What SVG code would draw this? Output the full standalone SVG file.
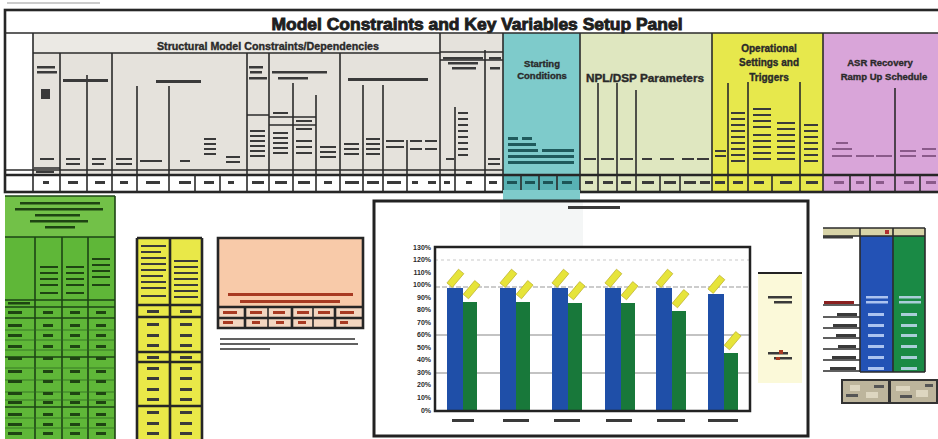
<svg xmlns="http://www.w3.org/2000/svg" width="938" height="439" viewBox="0 0 938 439">
<style>
.ln{stroke:#2b2b2b;stroke-width:1.6;fill:none}
.thk{stroke:#262626;stroke-width:2.6;fill:none}
.b{fill:#3a3a3a}
.bw{fill:#cfe0ff;opacity:.8}
.bg{fill:#1e4412}
.br{fill:#a83a22}
.gl{stroke:#1d4414;stroke-width:1.6;fill:none}
.gt{stroke:#2f6a22;stroke-width:.8;fill:none}
.hd{font-family:"Liberation Sans",Arial,sans-serif;font-weight:bold;fill:#2a2a2a;text-anchor:middle;stroke:#2a2a2a;stroke-width:.35}
.tt{stroke-width:.9;fill:#1e1e1e;stroke:#1e1e1e}
.ax{font-family:"Liberation Sans",Arial,sans-serif;font-weight:bold;font-size:7px;fill:#2a2a2a;text-anchor:end}
.lab{fill:#e6e43a;stroke:#b5a81e;stroke-width:.6}
</style>
<rect width="938" height="439" fill="#fff"/>
<line x1="7" y1="3" x2="100" y2="3" stroke="#999" stroke-width="1"/>

<g id="top-panel">
  <rect x="5" y="10" width="933" height="182" fill="#fff"/>
  <rect x="33" y="33" width="470" height="142" fill="#e5e2dc"/>
  <rect x="33" y="33" width="407" height="20" fill="#ebe9e4"/>
  <rect x="503" y="33" width="77" height="167" fill="#7ecbcb"/>
  <rect x="503" y="175" width="77" height="17" fill="#58b2b4"/>
  <rect x="580" y="33" width="132" height="159" fill="#dfe7c0"/>
  <rect x="712" y="33" width="111" height="159" fill="#e7e84c"/>
  <rect x="823" y="33" width="115" height="159" fill="#d9a5d9"/>
  <text class="hd tt" x="477" y="30" font-size="17" textLength="411" lengthAdjust="spacingAndGlyphs">Model Constraints and Key Variables Setup Panel</text>
  <text class="hd" x="268" y="50" font-size="10" textLength="222" lengthAdjust="spacingAndGlyphs">Structural Model Constraints/Dependencies</text>
  <text class="hd" x="542" y="67" font-size="9.5">Starting</text>
  <text class="hd" x="542" y="79" font-size="9.5">Conditions</text>
  <text class="hd" x="645" y="82" font-size="10" textLength="118" lengthAdjust="spacingAndGlyphs">NPL/DSP Parameters</text>
  <text class="hd" x="769" y="52" font-size="10">Operational</text>
  <text class="hd" x="769" y="66" font-size="10">Settings and</text>
  <text class="hd" x="769" y="81" font-size="10">Triggers</text>
  <text class="hd" x="880" y="66" font-size="9.5">ASR Recovery</text>
  <text class="hd" x="884" y="80" font-size="9.5">Ramp Up Schedule</text>

  <rect x="5" y="10" width="935" height="182" class="thk"/>
  <line x1="5" y1="33" x2="938" y2="33" class="ln"/>
  <line x1="33" y1="53" x2="440" y2="53" class="ln"/>
  <line x1="440" y1="52" x2="503" y2="52" class="ln" stroke-width=".8"/>
  <line x1="5" y1="175" x2="938" y2="175" class="thk"/>
  <line x1="5" y1="170" x2="503" y2="170" class="ln" stroke-width=".8"/>
  <path class="ln" d="M33 33V192M503 33V192M580 33V192M712 33V192M823 33V192M60 53V192M112 53V192M247 53V192M269 53V192M340 53V192M440 33V192"/>
  <path class="ln" stroke-width="1.2" d="M87 75V192M137 86V192M169 86V192M293 83V192M316 95V192M363 85V192M383 85V192M407 140V192M455 107V192M485 50V192M598 83V192M617 83V192M636 90V192M728 83V192M748 82V192M800 82V192M895 88V192M195 175V192M220 175V192M521 175V192M539 175V192M557 175V192M660 175V192M680 175V192M772 175V192M850 175V192M870 175V192M920 175V192"/>
  <path class="ln" stroke-width="1.2" d="M247 115H269M269 117H316M269 125H316M34 168H60M440 60H503"/>

  <g class="b">
    <rect x="37" y="66" width="18" height="2.5"/><rect x="37" y="71" width="20" height="2.5"/>
    <rect x="41" y="89" width="9" height="10"/>
    <rect x="63" y="79" width="45" height="3"/>
    <rect x="156" y="80" width="45" height="3"/>
    <rect x="249" y="66" width="14" height="2.5"/><rect x="250" y="71" width="12" height="2.5"/><rect x="249" y="77" width="18" height="2.5"/>
    <rect x="272" y="71" width="55" height="2.5"/><rect x="278" y="77" width="30" height="2.5"/>
    <rect x="348" y="78" width="80" height="3"/>
    <rect x="443" y="57" width="40" height="2.5"/><rect x="448" y="62" width="30" height="2.5"/><rect x="452" y="67" width="24" height="2.5"/>
    <rect x="489" y="57" width="12" height="2.5"/><rect x="490" y="67" width="10" height="2.5"/>
    <rect x="250" y="130" width="15" height="2"/><rect x="250" y="135" width="15" height="2"/><rect x="250" y="140" width="15" height="2"/><rect x="250" y="145" width="15" height="2"/><rect x="250" y="150" width="15" height="2"/><rect x="250" y="155" width="15" height="2"/>
    <rect x="273" y="112" width="15" height="2"/><rect x="273" y="132" width="15" height="2"/><rect x="273" y="137" width="15" height="2"/><rect x="273" y="142" width="15" height="2"/><rect x="273" y="147" width="15" height="2"/><rect x="273" y="152" width="15" height="2"/>
    <rect x="296" y="120" width="16" height="2"/><rect x="296" y="128" width="16" height="2"/><rect x="296" y="140" width="16" height="2"/><rect x="296" y="146" width="16" height="2"/><rect x="296" y="152" width="16" height="2"/>
    <rect x="320" y="146" width="16" height="2"/><rect x="320" y="151" width="16" height="2"/><rect x="320" y="156" width="16" height="2"/>
    <rect x="344" y="143" width="15" height="2"/><rect x="344" y="148" width="15" height="2"/><rect x="344" y="153" width="15" height="2"/>
    <rect x="366" y="138" width="14" height="2"/><rect x="366" y="143" width="14" height="2"/><rect x="366" y="148" width="14" height="2"/><rect x="366" y="153" width="14" height="2"/>
    <rect x="386" y="140" width="18" height="2"/><rect x="386" y="146" width="18" height="2"/><rect x="410" y="140" width="12" height="2"/><rect x="425" y="140" width="12" height="2"/><rect x="410" y="148" width="12" height="2"/><rect x="425" y="148" width="12" height="2"/>
    <rect x="458" y="112" width="10" height="2"/><rect x="458" y="118" width="10" height="2"/><rect x="458" y="124" width="10" height="2"/><rect x="458" y="130" width="10" height="2"/><rect x="458" y="136" width="10" height="2"/><rect x="458" y="142" width="10" height="2"/><rect x="458" y="148" width="10" height="2"/><rect x="458" y="154" width="10" height="2"/>
    <rect x="204" y="138" width="12" height="2"/><rect x="204" y="143" width="12" height="2"/><rect x="204" y="148" width="12" height="2"/><rect x="204" y="153" width="12" height="2"/>
    <rect x="226" y="156" width="14" height="2"/><rect x="226" y="161" width="14" height="2"/>
    <rect x="40" y="158" width="14" height="2"/><rect x="66" y="158" width="14" height="2"/><rect x="92" y="158" width="14" height="2"/><rect x="116" y="158" width="16" height="2"/><rect x="140" y="160" width="22" height="2"/><rect x="180" y="160" width="10" height="2"/><rect x="66" y="163" width="14" height="2"/><rect x="116" y="163" width="16" height="2"/><rect x="92" y="163" width="12" height="2"/>
    <rect x="36" y="171" width="18" height="2"/>
    <rect x="446" y="158" width="8" height="2"/><rect x="488" y="158" width="12" height="2"/><rect x="488" y="163" width="12" height="2"/>
    <rect x="584" y="158" width="12" height="2"/><rect x="601" y="158" width="13" height="2"/><rect x="620" y="158" width="13" height="2"/><rect x="642" y="158" width="10" height="2"/><rect x="660" y="158" width="14" height="2"/><rect x="682" y="158" width="12" height="2"/><rect x="697" y="158" width="12" height="2"/>
    <rect x="715" y="150" width="11" height="2"/><rect x="715" y="155" width="11" height="2"/>
    <rect x="731" y="112" width="14" height="2"/><rect x="731" y="118" width="14" height="2"/><rect x="731" y="124" width="14" height="2"/><rect x="731" y="130" width="14" height="2"/><rect x="731" y="136" width="14" height="2"/><rect x="731" y="142" width="14" height="2"/><rect x="731" y="148" width="14" height="2"/><rect x="731" y="154" width="14" height="2"/><rect x="731" y="160" width="14" height="2"/>
    <rect x="753" y="108" width="18" height="2"/><rect x="753" y="114" width="18" height="2"/><rect x="753" y="120" width="18" height="2"/><rect x="753" y="126" width="18" height="2"/><rect x="753" y="134" width="18" height="2"/><rect x="753" y="140" width="18" height="2"/><rect x="753" y="146" width="18" height="2"/><rect x="753" y="152" width="18" height="2"/><rect x="753" y="158" width="18" height="2"/>
    <rect x="777" y="122" width="18" height="2"/><rect x="777" y="128" width="18" height="2"/><rect x="777" y="134" width="18" height="2"/><rect x="777" y="140" width="18" height="2"/><rect x="777" y="146" width="18" height="2"/><rect x="777" y="152" width="18" height="2"/><rect x="777" y="158" width="18" height="2"/>
    <rect x="804" y="124" width="14" height="2"/><rect x="804" y="130" width="14" height="2"/><rect x="804" y="136" width="14" height="2"/><rect x="804" y="142" width="14" height="2"/><rect x="804" y="148" width="14" height="2"/><rect x="804" y="154" width="14" height="2"/><rect x="804" y="160" width="14" height="2"/>
  </g>
  <g fill="#8a5a8a">
    <rect x="836" y="142" width="12" height="2"/><rect x="832" y="148" width="20" height="2"/><rect x="832" y="155" width="20" height="2"/><rect x="856" y="155" width="18" height="2"/><rect x="876" y="155" width="16" height="2"/><rect x="900" y="150" width="16" height="2"/><rect x="900" y="155" width="16" height="2"/><rect x="922" y="148" width="14" height="2"/><rect x="922" y="155" width="14" height="2"/>
  </g>
  <g fill="#1f5a5c">
    <rect x="508" y="137" width="10" height="3"/><rect x="522" y="137" width="10" height="3"/><rect x="508" y="143" width="28" height="3"/><rect x="508" y="149" width="30" height="3"/><rect x="542" y="149" width="32" height="3"/><rect x="508" y="155" width="66" height="3"/><rect x="508" y="161" width="66" height="3"/>
  </g>
  <g class="b">
    <rect x="43" y="181" width="6" height="3"/><rect x="68" y="181" width="10" height="3"/><rect x="95" y="181" width="10" height="3"/><rect x="120" y="181" width="8" height="3"/><rect x="146" y="181" width="14" height="3"/><rect x="179" y="181" width="12" height="3"/><rect x="204" y="181" width="10" height="3"/><rect x="228" y="181" width="6" height="3"/><rect x="252" y="181" width="12" height="3"/><rect x="275" y="181" width="12" height="3"/><rect x="298" y="181" width="12" height="3"/><rect x="324" y="181" width="8" height="3"/><rect x="345" y="181" width="14" height="3"/><rect x="367" y="181" width="12" height="3"/><rect x="387" y="181" width="14" height="3"/><rect x="412" y="181" width="6" height="3"/><rect x="428" y="181" width="8" height="3"/><rect x="444" y="181" width="6" height="3"/><rect x="466" y="181" width="6" height="3"/><rect x="489" y="181" width="8" height="3"/>
    <rect x="585" y="181" width="8" height="3"/><rect x="603" y="181" width="10" height="3"/><rect x="621" y="181" width="10" height="3"/><rect x="642" y="181" width="12" height="3"/><rect x="664" y="181" width="12" height="3"/><rect x="684" y="181" width="12" height="3"/><rect x="700" y="181" width="10" height="3"/>
    <rect x="715" y="181" width="10" height="3"/><rect x="733" y="181" width="10" height="3"/><rect x="754" y="181" width="10" height="3"/><rect x="780" y="181" width="12" height="3"/><rect x="806" y="181" width="12" height="3"/>
  </g>
  <g fill="#1c5456"><rect x="507" y="181" width="10" height="3"/><rect x="525" y="181" width="10" height="3"/><rect x="543" y="181" width="10" height="3"/><rect x="562" y="181" width="10" height="3"/></g>
  <g fill="#8a5a8a"><rect x="834" y="181" width="10" height="3"/><rect x="856" y="181" width="8" height="3"/><rect x="876" y="181" width="8" height="3"/><rect x="904" y="181" width="10" height="3"/><rect x="926" y="181" width="10" height="3"/></g>
</g>

<g id="green-table">
  <rect x="5" y="196" width="110" height="243" fill="#5fb738"/>
  <rect x="5" y="196" width="110" height="41" fill="#72c148"/>
  <line x1="5" y1="196" x2="115" y2="196" class="gl"/>
  <path class="gl" d="M5 237H115M5 300H115M5 307H115M5 318H115M5 357H115M5 407H115M35 237V439M62 237V439M88 237V439M115 196V439"/>
  <path class="gt" d="M5 330H115M5 340H115M5 350H115M5 368H115M5 380H115M5 392H115M5 400H115M5 418H115M5 428H115"/>
  <g class="bg">
    <rect x="20" y="202" width="80" height="2.5"/><rect x="15" y="208" width="88" height="2.5"/><rect x="35" y="214" width="45" height="2.5"/><rect x="30" y="220" width="58" height="2.5"/><rect x="45" y="226" width="30" height="2.5"/>
    <rect x="40" y="266" width="18" height="2"/><rect x="40" y="272" width="18" height="2"/><rect x="40" y="278" width="18" height="2"/><rect x="40" y="284" width="18" height="2"/><rect x="40" y="292" width="18" height="2"/>
    <rect x="66" y="266" width="18" height="2"/><rect x="66" y="272" width="18" height="2"/><rect x="66" y="278" width="18" height="2"/><rect x="66" y="284" width="18" height="2"/><rect x="66" y="292" width="18" height="2"/>
    <rect x="92" y="258" width="18" height="2"/><rect x="92" y="264" width="18" height="2"/><rect x="92" y="270" width="18" height="2"/><rect x="92" y="276" width="18" height="2"/><rect x="92" y="284" width="18" height="2"/>
    <rect x="8" y="302" width="22" height="2.5"/>
    <rect x="8" y="311" width="14" height="3"/><rect x="8" y="324" width="14" height="3"/><rect x="8" y="334" width="14" height="3"/><rect x="8" y="345" width="14" height="3"/><rect x="8" y="357" width="14" height="3"/><rect x="8" y="370" width="14" height="3"/><rect x="8" y="380" width="14" height="3"/><rect x="8" y="392" width="14" height="3"/><rect x="8" y="401" width="14" height="3"/><rect x="8" y="413" width="14" height="3"/><rect x="8" y="423" width="14" height="3"/><rect x="8" y="432" width="14" height="3"/>
    <rect x="43" y="311" width="10" height="3"/><rect x="43" y="324" width="10" height="3"/><rect x="43" y="334" width="10" height="3"/><rect x="43" y="345" width="10" height="3"/><rect x="43" y="357" width="10" height="3"/><rect x="43" y="370" width="10" height="3"/><rect x="43" y="380" width="10" height="3"/><rect x="43" y="392" width="10" height="3"/><rect x="43" y="401" width="10" height="3"/><rect x="43" y="413" width="10" height="3"/><rect x="43" y="423" width="10" height="3"/><rect x="43" y="432" width="10" height="3"/>
    <rect x="70" y="311" width="10" height="3"/><rect x="70" y="324" width="10" height="3"/><rect x="70" y="334" width="10" height="3"/><rect x="70" y="345" width="10" height="3"/><rect x="70" y="357" width="10" height="3"/><rect x="70" y="370" width="10" height="3"/><rect x="70" y="380" width="10" height="3"/><rect x="70" y="392" width="10" height="3"/><rect x="70" y="401" width="10" height="3"/><rect x="70" y="413" width="10" height="3"/><rect x="70" y="423" width="10" height="3"/><rect x="70" y="432" width="10" height="3"/>
    <rect x="96" y="311" width="10" height="3"/><rect x="96" y="324" width="10" height="3"/><rect x="96" y="334" width="10" height="3"/><rect x="96" y="345" width="10" height="3"/><rect x="96" y="357" width="10" height="3"/><rect x="96" y="370" width="10" height="3"/><rect x="96" y="380" width="10" height="3"/><rect x="96" y="392" width="10" height="3"/><rect x="96" y="401" width="10" height="3"/><rect x="96" y="413" width="10" height="3"/><rect x="96" y="423" width="10" height="3"/><rect x="96" y="432" width="10" height="3"/>
  </g>
</g>

<g id="yellow-table">
  <rect x="137" y="238" width="65" height="201" fill="#e9e848"/>
  <path class="thk" d="M137 238H202M137 238V439M202 238V439M170 238V439M137 305H202M137 317H202M137 352H202M137 362H202M137 406H202"/>
  <g class="b">
    <rect x="141" y="245" width="25" height="2"/><rect x="141" y="251" width="20" height="2"/><rect x="141" y="257" width="25" height="2"/><rect x="141" y="263" width="25" height="2"/><rect x="141" y="269" width="25" height="2"/><rect x="141" y="275" width="22" height="2"/><rect x="141" y="281" width="25" height="2"/><rect x="141" y="287" width="25" height="2"/><rect x="141" y="295" width="25" height="2"/>
    <rect x="174" y="260" width="24" height="2"/><rect x="174" y="266" width="24" height="2"/><rect x="174" y="272" width="24" height="2"/><rect x="174" y="278" width="24" height="2"/><rect x="174" y="284" width="24" height="2"/><rect x="174" y="290" width="24" height="2"/><rect x="174" y="296" width="24" height="2"/>
    <rect x="147" y="310" width="12" height="3"/><rect x="147" y="323" width="12" height="3"/><rect x="147" y="334" width="12" height="3"/><rect x="147" y="344" width="12" height="3"/><rect x="147" y="356" width="12" height="3"/><rect x="147" y="367" width="12" height="3"/><rect x="147" y="377" width="12" height="3"/><rect x="147" y="388" width="12" height="3"/><rect x="147" y="398" width="12" height="3"/><rect x="147" y="411" width="12" height="3"/><rect x="147" y="422" width="12" height="3"/><rect x="147" y="432" width="12" height="3"/>
    <rect x="180" y="310" width="12" height="3"/><rect x="180" y="323" width="12" height="3"/><rect x="180" y="334" width="12" height="3"/><rect x="180" y="344" width="12" height="3"/><rect x="180" y="356" width="12" height="3"/><rect x="180" y="367" width="12" height="3"/><rect x="180" y="377" width="12" height="3"/><rect x="180" y="388" width="12" height="3"/><rect x="180" y="398" width="12" height="3"/><rect x="180" y="411" width="12" height="3"/><rect x="180" y="422" width="12" height="3"/><rect x="180" y="432" width="12" height="3"/>
  </g>
</g>

<g id="salmon-table">
  <rect x="218" y="238" width="145" height="90" fill="#f8caa9"/>
  <rect x="218" y="307" width="145" height="21" fill="#f3d6c0"/>
  <path class="thk" d="M218 238H363V328H218ZM218 307H363M218 318H363M245 307V328M292 307V328M335 307V328"/>
  <path class="ln" stroke-width="1" d="M268 307V328M313 307V328"/>
  <g class="br">
    <rect x="228" y="293" width="125" height="3"/><rect x="240" y="300" width="100" height="3"/>
    <rect x="223" y="311" width="14" height="3"/><rect x="250" y="311" width="12" height="3"/><rect x="273" y="311" width="12" height="3"/><rect x="297" y="311" width="12" height="3"/><rect x="318" y="311" width="12" height="3"/><rect x="340" y="311" width="14" height="3"/>
    <rect x="223" y="321" width="10" height="3"/><rect x="252" y="321" width="8" height="3"/><rect x="276" y="321" width="8" height="3"/><rect x="298" y="321" width="8" height="3"/><rect x="340" y="321" width="8" height="3"/>
  </g>
  <g class="b" opacity=".8">
    <rect x="220" y="338" width="135" height="2"/><rect x="220" y="343" width="138" height="2"/><rect x="220" y="348" width="50" height="2"/>
  </g>
</g>

<g id="chart">
  <rect x="503" y="190" width="77" height="10" fill="#7ecbcb"/>
  <rect x="500" y="200" width="83" height="90" fill="#f4f6f6"/>
  <rect x="374" y="201" width="434" height="235" fill="none" stroke="#222" stroke-width="3"/>
  <rect x="568" y="206" width="52" height="3" class="b"/>
  <rect x="435" y="247" width="315" height="164" fill="#fff"/>
  <line x1="435" y1="260" x2="750" y2="260" stroke="#bbb" stroke-width=".8" stroke-dasharray="3 3"/>
  <line x1="435" y1="287" x2="750" y2="287" stroke="#999" stroke-width="1" stroke-dasharray="5 2"/>
  <line x1="435" y1="335" x2="750" y2="335" stroke="#888" stroke-width="1.2"/>
  <line x1="435" y1="373" x2="750" y2="373" stroke="#888" stroke-width="1.2"/>
  <g fill="#1f4fa8">
    <rect x="447" y="288" width="16" height="123"/><rect x="500" y="288" width="16" height="123"/><rect x="552" y="288" width="16" height="123"/><rect x="605" y="288" width="16" height="123"/><rect x="656" y="288" width="16" height="123"/><rect x="708" y="294" width="16" height="117"/>
  </g>
  <g fill="#18783a">
    <rect x="463" y="302" width="14" height="109"/><rect x="516" y="302" width="14" height="109"/><rect x="568" y="303" width="14" height="108"/><rect x="621" y="303" width="14" height="108"/><rect x="672" y="311" width="14" height="100"/><rect x="724" y="353" width="14" height="58"/>
  </g>
  <rect x="435" y="247" width="315" height="164" fill="none" stroke="#222" stroke-width="2.5"/>
  <g class="lab">
    <rect x="446" y="275" width="18" height="7" transform="rotate(-50 455 278)"/>
    <rect x="463" y="286" width="18" height="7" transform="rotate(-50 472 290)"/>
    <rect x="499" y="275" width="18" height="7" transform="rotate(-50 508 278)"/>
    <rect x="516" y="286" width="18" height="7" transform="rotate(-50 525 290)"/>
    <rect x="551" y="275" width="18" height="7" transform="rotate(-50 560 278)"/>
    <rect x="568" y="287" width="18" height="7" transform="rotate(-50 577 291)"/>
    <rect x="604" y="275" width="18" height="7" transform="rotate(-50 613 278)"/>
    <rect x="621" y="287" width="18" height="7" transform="rotate(-50 630 291)"/>
    <rect x="655" y="275" width="18" height="7" transform="rotate(-50 664 278)"/>
    <rect x="672" y="295" width="18" height="7" transform="rotate(-50 681 299)"/>
    <rect x="707" y="281" width="18" height="7" transform="rotate(-50 716 284)"/>
    <rect x="724" y="337" width="18" height="7" transform="rotate(-50 733 341)"/>
  </g>
  <g class="ax">
    <text x="431" y="412.5">0%</text><text x="431" y="400">10%</text><text x="431" y="387.4">20%</text><text x="431" y="374.9">30%</text><text x="431" y="362.3">40%</text><text x="431" y="349.8">50%</text><text x="431" y="337.3">60%</text><text x="431" y="324.7">70%</text><text x="431" y="312.2">80%</text><text x="431" y="299.6">90%</text><text x="431" y="287.1">100%</text><text x="431" y="274.6">110%</text><text x="431" y="262">120%</text><text x="431" y="249.5">130%</text>
  </g>
  <g class="b">
    <rect x="452" y="419" width="22" height="3"/><rect x="503" y="419" width="26" height="3"/><rect x="554" y="419" width="26" height="3"/><rect x="606" y="419" width="26" height="3"/><rect x="657" y="419" width="28" height="3"/><rect x="708" y="419" width="30" height="3"/>
  </g>
</g>

<g id="legend">
  <rect x="758" y="273" width="44" height="110" fill="#fbf9d9"/>
  <line x1="758" y1="273" x2="802" y2="273" stroke="#222" stroke-width="2"/>
  <rect x="768" y="296" width="24" height="2.5" class="b"/><rect x="774" y="301" width="18" height="2.5" class="b"/>
  <rect x="768" y="352" width="20" height="2.5" class="b"/><rect x="774" y="357" width="18" height="2.5" class="b"/>
  <rect x="779" y="350" width="4" height="4" class="br"/><rect x="776" y="357" width="4" height="3" class="br"/>
</g>

<g id="right-table">
  <rect x="823" y="228" width="102" height="8" fill="#d8d4a8"/>
  <rect x="860" y="236" width="33" height="136" fill="#2352b5"/>
  <rect x="893" y="236" width="32" height="136" fill="#1a8a45"/>
  <rect x="885" y="230" width="4" height="4" fill="#b03030"/>
  <path class="ln" d="M823 228H925M823 236H925M860 228V372M893 228V372M925 228V372M860 372H925"/>
  <path class="ln" stroke-width="1" d="M823 305H860M823 317H860M823 328H860M823 338H860M823 349H860M823 360H860M823 371H860"/>
  <g class="b">
    <rect x="823" y="236" width="30" height="2.5"/>
    <rect x="837" y="313" width="20" height="3"/><rect x="833" y="324" width="24" height="3"/><rect x="836" y="334" width="20" height="3"/><rect x="838" y="345" width="18" height="3"/><rect x="832" y="356" width="24" height="3"/><rect x="830" y="367" width="26" height="3"/>
  </g>
  <rect x="824" y="301" width="30" height="3" fill="#8a2020"/>
  <g class="bw">
    <rect x="866" y="296" width="22" height="2.5"/><rect x="866" y="301" width="22" height="2.5"/><rect x="899" y="296" width="22" height="2.5"/><rect x="899" y="301" width="22" height="2.5"/>
    <rect x="868" y="313" width="16" height="3"/><rect x="868" y="324" width="16" height="3"/><rect x="868" y="334" width="16" height="3"/><rect x="868" y="345" width="16" height="3"/><rect x="868" y="356" width="16" height="3"/><rect x="868" y="367" width="16" height="3"/>
    <rect x="901" y="313" width="16" height="3"/><rect x="901" y="324" width="16" height="3"/><rect x="901" y="334" width="16" height="3"/><rect x="901" y="345" width="16" height="3"/><rect x="901" y="356" width="16" height="3"/><rect x="901" y="367" width="16" height="3"/>
  </g>
</g>

<g id="buttons">
  <rect x="842" y="380" width="47" height="23" fill="#bdb59c" stroke="#333" stroke-width="2"/>
  <rect x="890" y="380" width="47" height="23" fill="#bdb59c" stroke="#333" stroke-width="2"/>
  <g fill="#ddd6c0"><rect x="850" y="385" width="10" height="6"/><rect x="866" y="392" width="12" height="6"/><rect x="896" y="386" width="14" height="5"/><rect x="916" y="390" width="12" height="7"/></g>
  <g fill="#555"><rect x="846" y="394" width="12" height="3"/><rect x="874" y="385" width="10" height="3"/><rect x="900" y="395" width="12" height="3"/><rect x="925" y="384" width="8" height="3"/></g>
</g>
</svg>
